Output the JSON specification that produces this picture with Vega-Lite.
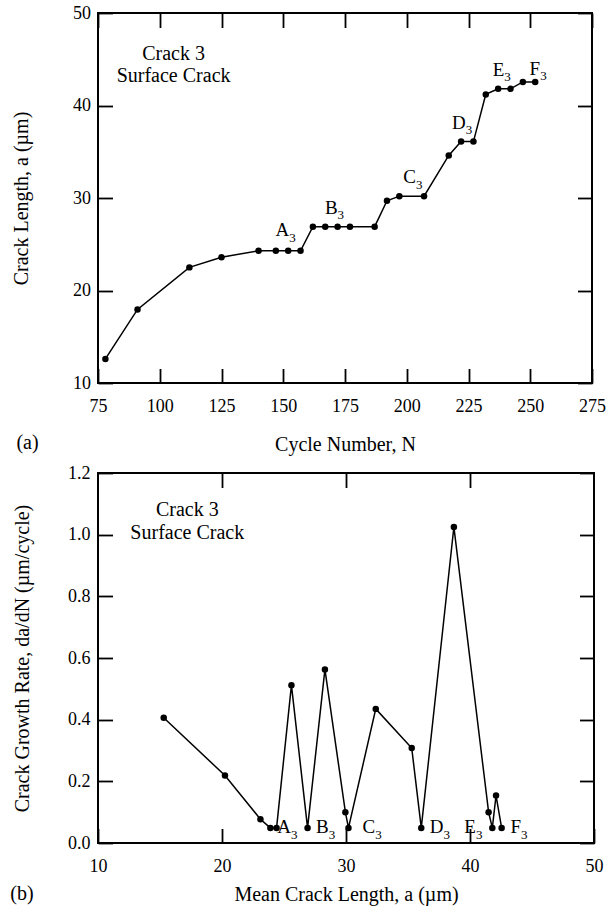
{
  "$schema": "https://vega.github.io/schema/vega-lite/v6.json",
  "background": "white",
  "padding": {"left": 9, "top": 3, "right": 5, "bottom": 5},
  "config": {
    "font": "Liberation Serif",
    "view": {"stroke": "black", "strokeWidth": 2},
    "axis": {
      "grid": false,
      "domain": false,
      "offset": -14.5,
      "ticks": true,
      "tickColor": "black",
      "tickWidth": 1.8,
      "tickSize": 14.5,
      "labelColor": "black",
      "labelFont": "Liberation Serif",
      "labelFontSize": 18,
      "labelFlush": false,
      "labelOverlap": false,
      "titleColor": "black",
      "titleFont": "Liberation Serif",
      "titleFontSize": 20,
      "titleFontWeight": "normal"
    },
    "text": {"font": "Liberation Serif", "color": "black"}
  },
  "datasets": {
    "growth": [
      {"N": 78, "a": 12.6}, {"N": 91, "a": 17.95}, {"N": 112, "a": 22.5}, {"N": 125, "a": 23.6},
      {"N": 140, "a": 24.3}, {"N": 147, "a": 24.3}, {"N": 152, "a": 24.3}, {"N": 157, "a": 24.3},
      {"N": 162, "a": 26.9}, {"N": 167, "a": 26.9}, {"N": 172, "a": 26.9}, {"N": 177, "a": 26.9},
      {"N": 187, "a": 26.9}, {"N": 192, "a": 29.7}, {"N": 197, "a": 30.2}, {"N": 207, "a": 30.2},
      {"N": 217, "a": 34.6}, {"N": 222, "a": 36.1}, {"N": 227, "a": 36.1}, {"N": 232, "a": 41.2},
      {"N": 237, "a": 41.8}, {"N": 242, "a": 41.8}, {"N": 247, "a": 42.55}, {"N": 252, "a": 42.55}
    ],
    "labelsTop": [
      {"letter": "A", "sub": "3", "x": 152.4, "y": 25.84},
      {"letter": "B", "sub": "3", "x": 172.0, "y": 28.29},
      {"letter": "C", "sub": "3", "x": 203.7, "y": 31.6},
      {"letter": "D", "sub": "3", "x": 223.9, "y": 37.48},
      {"letter": "E", "sub": "3", "x": 239.5, "y": 43.24},
      {"letter": "F", "sub": "3", "x": 254.0, "y": 43.35}
    ],
    "rate": [
      {"a": 15.3, "r": 0.406}, {"a": 20.24, "r": 0.219}, {"a": 23.1, "r": 0.077}, {"a": 23.9, "r": 0.049},
      {"a": 24.4, "r": 0.049}, {"a": 25.6, "r": 0.512}, {"a": 26.9, "r": 0.049}, {"a": 28.3, "r": 0.563},
      {"a": 29.95, "r": 0.10}, {"a": 30.2, "r": 0.049}, {"a": 32.4, "r": 0.435}, {"a": 35.3, "r": 0.308},
      {"a": 36.07, "r": 0.049}, {"a": 38.7, "r": 1.025}, {"a": 41.5, "r": 0.10}, {"a": 41.8, "r": 0.049},
      {"a": 42.1, "r": 0.154}, {"a": 42.55, "r": 0.049}
    ],
    "labelsBottom": [
      {"letter": "A", "sub": "3", "x": 25.56, "y": 0.031},
      {"letter": "B", "sub": "3", "x": 28.6, "y": 0.031},
      {"letter": "C", "sub": "3", "x": 32.36, "y": 0.031},
      {"letter": "D", "sub": "3", "x": 37.87, "y": 0.031},
      {"letter": "E", "sub": "3", "x": 40.48, "y": 0.031},
      {"letter": "F", "sub": "3", "x": 44.11, "y": 0.031}
    ]
  },
  "columns": 1,
  "align": "none",
  "spacing": 8,
  "concat": [
    {
      "width": 494,
      "height": 370,
      "layer": [
        {
          "data": {"name": "growth"},
          "mark": {"type": "line", "color": "black", "strokeWidth": 1.5, "point": {"filled": true, "size": 42, "color": "black", "opacity": 1}},
          "encoding": {
            "x": {"field": "N", "type": "quantitative", "scale": {"domain": [75, 275], "nice": false, "zero": false},
                  "axis": {"orient": "bottom", "values": [75, 100, 125, 150, 175, 200, 225, 250, 275], "title": "Cycle Number, N", "labelPadding": 14, "titlePadding": 19}},
            "y": {"field": "a", "type": "quantitative", "scale": {"domain": [10, 50], "nice": false, "zero": false},
                  "axis": {"orient": "left", "values": [10, 20, 30, 40, 50], "title": "Crack Length, a (µm)", "labelPadding": 7.5, "titlePadding": 41}}
          }
        },
        {
          "data": {"name": "growth"},
          "mark": {"type": "point", "opacity": 0},
          "encoding": {
            "x": {"field": "N", "type": "quantitative", "axis": {"orient": "top", "values": [75, 100, 125, 150, 175, 200, 225, 250, 275], "labels": false, "title": null}},
            "y": {"field": "a", "type": "quantitative", "axis": {"orient": "right", "values": [10, 20, 30, 40, 50], "labels": false, "title": null}}
          }
        },
        {
          "data": {"name": "labelsTop"},
          "mark": {"type": "text", "align": "right", "baseline": "alphabetic", "fontSize": 19},
          "encoding": {
            "x": {"field": "x", "type": "quantitative", "axis": null},
            "y": {"field": "y", "type": "quantitative", "axis": null},
            "text": {"field": "letter"}
          }
        },
        {
          "data": {"name": "labelsTop"},
          "mark": {"type": "text", "align": "left", "baseline": "alphabetic", "fontSize": 13, "dy": 5.5},
          "encoding": {
            "x": {"field": "x", "type": "quantitative", "axis": null},
            "y": {"field": "y", "type": "quantitative", "axis": null},
            "text": {"field": "sub"}
          }
        },
        {
          "data": {"values": [{}]},
          "mark": {"type": "text", "align": "center", "baseline": "alphabetic", "fontSize": 20, "lineHeight": 22.5, "text": ["Crack 3", "Surface Crack"]},
          "encoding": {
            "x": {"datum": 105.6, "type": "quantitative", "axis": null},
            "y": {"datum": 44.94, "type": "quantitative", "axis": null}
          }
        },
        {
          "data": {"values": [{}]},
          "mark": {"type": "text", "align": "center", "baseline": "middle", "fontSize": 20, "text": "(a)"},
          "encoding": {
            "x": {"datum": 46.46, "type": "quantitative", "axis": null},
            "y": {"datum": 3.46, "type": "quantitative", "axis": null}
          }
        }
      ]
    },
    {
      "width": 496,
      "height": 370,
      "layer": [
        {
          "data": {"name": "rate"},
          "mark": {"type": "line", "color": "black", "strokeWidth": 1.5, "point": {"filled": true, "size": 42, "color": "black", "opacity": 1}},
          "encoding": {
            "x": {"field": "a", "type": "quantitative", "scale": {"domain": [10, 50], "nice": false, "zero": false},
                  "axis": {"orient": "bottom", "values": [10, 20, 30, 40, 50], "title": "Mean Crack Length, a (µm)", "labelPadding": 14.5, "titlePadding": 9}},
            "y": {"field": "r", "type": "quantitative", "scale": {"domain": [0, 1.2], "nice": false, "zero": false},
                  "axis": {"orient": "left", "values": [0, 0.2, 0.4, 0.6, 0.8, 1.0, 1.2], "format": ".1f", "title": "Crack Growth Rate, da/dN (µm/cycle)", "labelPadding": 8, "titlePadding": 35}}
          }
        },
        {
          "data": {"name": "rate"},
          "mark": {"type": "point", "opacity": 0},
          "encoding": {
            "x": {"field": "a", "type": "quantitative", "axis": {"orient": "top", "values": [20, 30, 40], "labels": false, "title": null}},
            "y": {"field": "r", "type": "quantitative", "axis": {"orient": "right", "values": [0, 0.2, 0.4, 0.6, 0.8, 1.0, 1.2], "labels": false, "title": null}}
          }
        },
        {
          "data": {"name": "labelsBottom"},
          "mark": {"type": "text", "align": "right", "baseline": "alphabetic", "fontSize": 19},
          "encoding": {
            "x": {"field": "x", "type": "quantitative", "axis": null},
            "y": {"field": "y", "type": "quantitative", "axis": null},
            "text": {"field": "letter"}
          }
        },
        {
          "data": {"name": "labelsBottom"},
          "mark": {"type": "text", "align": "left", "baseline": "alphabetic", "fontSize": 13, "dy": 5.5},
          "encoding": {
            "x": {"field": "x", "type": "quantitative", "axis": null},
            "y": {"field": "y", "type": "quantitative", "axis": null},
            "text": {"field": "sub"}
          }
        },
        {
          "data": {"values": [{}]},
          "mark": {"type": "text", "align": "center", "baseline": "alphabetic", "fontSize": 20, "lineHeight": 22.5, "text": ["Crack 3", "Surface Crack"]},
          "encoding": {
            "x": {"datum": 17.2, "type": "quantitative", "axis": null},
            "y": {"datum": 1.059, "type": "quantitative", "axis": null}
          }
        },
        {
          "data": {"values": [{}]},
          "mark": {"type": "text", "align": "center", "baseline": "middle", "fontSize": 20, "text": "(b)"},
          "encoding": {
            "x": {"datum": 3.87, "type": "quantitative", "axis": null},
            "y": {"datum": -0.1646, "type": "quantitative", "axis": null}
          }
        }
      ]
    }
  ]
}
